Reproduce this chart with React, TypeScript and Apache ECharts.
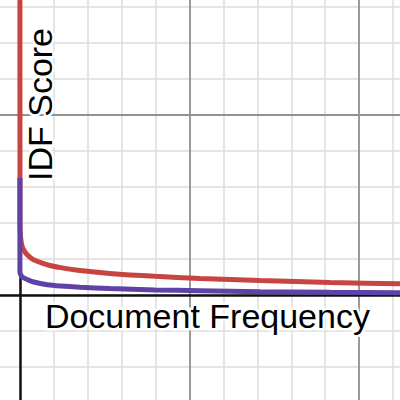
import React, { useEffect, useRef } from "react";
import * as echarts from "echarts";

// Curve samples (x = document frequency, y = IDF score, grid units)
const redX = [0, 0.002, 0.01, 0.03, 0.06, 0.1, 0.2, 0.38, 0.68, 0.885, 1.2, 1.77, 2.65, 3.98, 5.31, 7.08, 9.14, 11.2, 12];
const redY = [10, 2.07, 1.74, 1.52, 1.37, 1.27, 1.13, 0.99, 0.88, 0.82, 0.76, 0.68, 0.6, 0.52, 0.46, 0.4, 0.35, 0.31, 0.29];
const purpleX = [0, 0, 0.009, 0.044, 0.1, 0.215, 0.41, 0.805, 1.2, 1.77, 2.65, 3.98, 5.31, 7.08, 9.14, 11.2, 12];
const purpleY = [3.25, 0.66, 0.6, 0.53, 0.48, 0.43, 0.36, 0.286, 0.25, 0.217, 0.18, 0.142, 0.119, 0.092, 0.075, 0.064, 0.058];

// Grid lines
const majorX = [5, 10];
const majorY = [5];
const xLabel = "Document Frequency";
const yLabel = "IDF Score";

const X_MIN = -1;
const X_MAX = 12;
const Y_MIN = -3;
const Y_MAX = 9;

const UNIT_X = 33.9;
const UNIT_Y = 36;
const ORIGIN_X = 20;
const ORIGIN_Y = 295;
const OFFSET_LEFT = ORIGIN_X + X_MIN * UNIT_X;
const OFFSET_TOP = ORIGIN_Y - Y_MAX * UNIT_Y;
const CHART_W = (X_MAX - X_MIN) * UNIT_X;
const CHART_H = (Y_MAX - Y_MIN) * UNIT_Y;

export default function App() {
  const ref = useRef<HTMLDivElement>(null);

  useEffect(() => {
    document.body.style.margin = "0";
    const chart = echarts.init(ref.current!, null, { renderer: "svg" });
    const font = '34px "Liberation Sans", Arial, Helvetica, sans-serif';

    chart.setOption({
      animation: false,
      backgroundColor: "#ffffff",
      grid: { left: 0, top: 0, right: 0, bottom: 0, containLabel: false },
      xAxis: {
        type: "value",
        min: X_MIN,
        max: X_MAX,
        interval: 1,
        axisLine: { show: false },
        axisTick: { show: false },
        axisLabel: { show: false },
        splitLine: { show: true, lineStyle: { color: "#dcdcdc", width: 1.5 } },
      },
      yAxis: {
        type: "value",
        min: Y_MIN,
        max: Y_MAX,
        interval: 1,
        axisLine: { show: false },
        axisTick: { show: false },
        axisLabel: { show: false },
        splitLine: { show: true, lineStyle: { color: "#dcdcdc", width: 1.5 } },
      },
      series: [
        {
          type: "line",
          data: [],
          silent: true,
          markLine: {
            silent: true,
            z: 1,
            symbol: "none",
            label: { show: false },
            lineStyle: { color: "#929292", width: 1.8, type: "solid" },
            data: [
              ...majorX.map((v) => ({ xAxis: v })),
              ...majorY.map((v) => ({ yAxis: v })),
            ],
          },
        },
        {
          type: "line",
          data: [],
          silent: true,
          markLine: {
            silent: true,
            z: 2,
            symbol: "none",
            label: { show: false },
            lineStyle: { color: "#111111", width: 2.5, type: "solid" },
            data: [{ xAxis: 0 }, { yAxis: 0 }],
          },
        },
        {
          type: "line",
          z: 5,
          showSymbol: false,
          smooth: 0.25,
          lineStyle: { color: "#c74440", width: 5 },
          data: redX.map((x, i) => [x, redY[i]]),
        },
        {
          type: "line",
          z: 6,
          showSymbol: false,
          smooth: 0.25,
          lineStyle: { color: "#6042a6", width: 5 },
          data: purpleX.map((x, i) => [x, purpleY[i]]),
        },
      ],
      graphic: [
        {
          type: "text",
          z: 100,
          x: 45 - OFFSET_LEFT,
          y: 315.5 - OFFSET_TOP,
          style: {
            text: xLabel,
            font,
            fill: "#000000",
            stroke: "#ffffff",
            lineWidth: 5,
            strokeFirst: true,
            align: "left",
            verticalAlign: "middle",
          },
        },
        {
          type: "text",
          z: 100,
          x: 40.5 - OFFSET_LEFT,
          y: 181 - OFFSET_TOP,
          rotation: Math.PI / 2,
          style: {
            text: yLabel,
            font,
            fill: "#000000",
            stroke: "#ffffff",
            lineWidth: 5,
            strokeFirst: true,
            align: "left",
            verticalAlign: "middle",
          },
        },
      ],
    });
    return () => chart.dispose();
  }, []);

  return (
    <div style={{ position: "relative", width: 400, height: 400, overflow: "hidden" }}>
      <div
        ref={ref}
        style={{
          position: "absolute",
          left: OFFSET_LEFT,
          top: OFFSET_TOP,
          width: CHART_W,
          height: CHART_H,
        }}
      />
    </div>
  );
}
